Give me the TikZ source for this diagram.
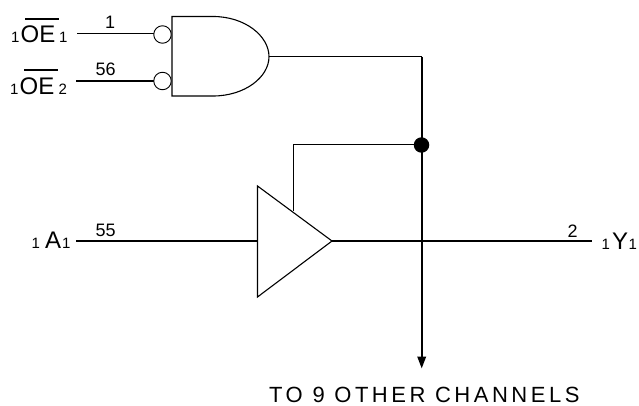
\documentclass[tikz,border=0pt]{standalone}
\usepackage{fontspec}
\setmainfont{Liberation Sans}
\usetikzlibrary{arrows.meta}
\newcommand{\sz}[1]{\fontsize{#1}{#1}\selectfont}
\newfontfamily\widefont[LetterSpace=16]{Liberation Sans}
\tikzset{
  x=1pt,y=-1pt,
  wire/.style={line width=1.2pt,black},
  thick wire/.style={line width=2pt,black},
  thin wire/.style={line width=1pt,black},
  bubble/.style={circle,draw=black,line width=0.9pt,fill=white,minimum size=17.5pt,inner sep=0pt},
  junction/.style={circle,fill=black,minimum size=15.5pt,inner sep=0pt},
  pin text/.style={inner sep=0pt,anchor=base west,font=\sz{18}},
  small text/.style={inner sep=0pt,anchor=base west,font=\sz{15}},
  big text/.style={inner sep=0pt,anchor=base west,font=\sz{24}},
  gate outline/.style={line width=1.1pt,black,line join=miter}
}
\begin{document}
\begin{tikzpicture}
\useasboundingbox (0,0) rectangle (639,406);
\coordinate (in1) at (77,33.5);
\coordinate (in2) at (76,81.5);
\coordinate (gateTL) at (172,16.5);
\coordinate (gateBL) at (172,96);
\coordinate (gateOut) at (269,56.7);
\coordinate (corner) at (421.7,56.7);
\coordinate (arrowEnd) at (421.7,368.5);
\coordinate (bufIn) at (76,241);
\coordinate (bufT) at (257.5,186);
\coordinate (bufB) at (257.5,297);
\coordinate (bufTip) at (332,241);
\coordinate (out) at (592,241);
\coordinate (fbBase) at (293,210.5);
\draw[thin wire] (in1) -- (154,33.5);
\draw[thick wire] (in2) -- (154,81.5);
\draw[wire] (gateOut) -- (corner);
\draw[thick wire,-{Triangle[length=12pt,width=8.5pt]}] (corner) -- (arrowEnd);
\draw[thick wire] (bufIn) -- (bufT |- bufIn);
\draw[thick wire] (bufTip) -- (out);
\draw[gate outline] (gateBL) -- (gateTL) -- (213,16.5)
  .. controls (245,16.5) and (269,36) .. (gateOut)
  .. controls (269,77) and (245,96) .. (213,96) -- cycle;
\node[bubble] (b1) at (162.5,34.5) {};
\node[bubble] (b2) at (162.5,81) {};
\draw[gate outline] (bufT) -- (bufTip) -- (bufB) -- cycle;
\node[junction] (dot) at (421.5,145) {};
\draw[thin wire] (fbBase) -- (fbBase |- dot) -- (dot);
% labels
\node[small text] (a1) at (11,42.7) {1};
\node[big text] (a2) at (20.5,42.7) {OE};
\node[small text] (a3) at (59,42.7) {1};
\draw[line width=1.3pt] (25,19) coordinate (ba) -- (59,19) coordinate (bb);
\node[small text] (c1) at (10,94.5) {1};
\node[big text] (c2) at (19.5,94.5) {OE};
\node[small text] (c3) at (58.5,94.5) {2};
\draw[line width=1.3pt] (24,70) coordinate (bc) -- (58,70) coordinate (bd);
\node[pin text] (p1) at (105,29) {1};
\node[pin text] (p56) at (95.5,76) {56};
\node[pin text] (p55) at (95.5,236) {55};
\node[pin text] (p2) at (567.5,237) {2};
\node[small text] (d1) at (31.5,248) {1};
\node[big text] (d2) at (45,248) {A};
\node[small text] (d3) at (62,248) {1};
\node[small text] (e1) at (601.5,249) {1};
\node[big text] (e2) at (612,249) {Y};
\node[small text] (e3) at (628.5,249) {1};
\node[inner sep=0pt,anchor=base west,font=\widefont\sz{22}] (t) at (269,402.5) {TO 9 OTHER CHANNELS};
\end{tikzpicture}
\end{document}
